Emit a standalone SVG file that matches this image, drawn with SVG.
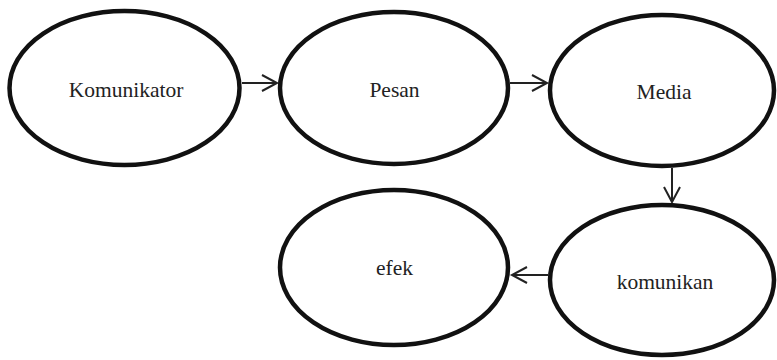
<svg xmlns="http://www.w3.org/2000/svg" width="777" height="360" viewBox="0 0 777 360">
<style>
.node ellipse{fill:#fff;stroke:#111;stroke-width:4.5}
.node text{font-family:"Liberation Serif","Times New Roman",serif;font-size:21.5px;fill:#222;text-anchor:middle}
.conn line{stroke:#222;stroke-width:2;fill:none}
</style>
<defs>
<marker id="arr" markerUnits="userSpaceOnUse" markerWidth="20" markerHeight="20" refX="16" refY="9" orient="auto">
<path d="M1,1 L16,9 L1,17" fill="none" stroke="#222" stroke-width="2"/>
</marker>
</defs>
<rect width="777" height="360" fill="#fff"/>
<g class="conn">
<line x1="242" y1="83" x2="277" y2="83" marker-end="url(#arr)"/>
<line x1="510" y1="83" x2="547" y2="83" marker-end="url(#arr)"/>
<line x1="672" y1="168" x2="672" y2="202" marker-end="url(#arr)"/>
<line x1="548" y1="275" x2="512" y2="275" marker-end="url(#arr)"/>
</g>
<g id="komunikator" class="node">
<ellipse cx="124.5" cy="88" rx="115" ry="77"/>
<text x="126" y="97">Komunikator</text>
</g>
<g id="pesan" class="node">
<ellipse cx="394" cy="88" rx="114" ry="76"/>
<text x="394.5" y="97" font-size="22.5">Pesan</text>
</g>
<g id="media" class="node">
<ellipse cx="662" cy="90.5" rx="112" ry="75.5"/>
<text x="664" y="99" font-size="22.5">Media</text>
</g>
<g id="komunikan" class="node">
<ellipse cx="662" cy="280" rx="112" ry="75"/>
<text x="665" y="289">komunikan</text>
</g>
<g id="efek" class="node">
<ellipse cx="394" cy="267.5" rx="114" ry="77.5"/>
<text x="394.5" y="275" font-size="22.5">efek</text>
</g>
</svg>
